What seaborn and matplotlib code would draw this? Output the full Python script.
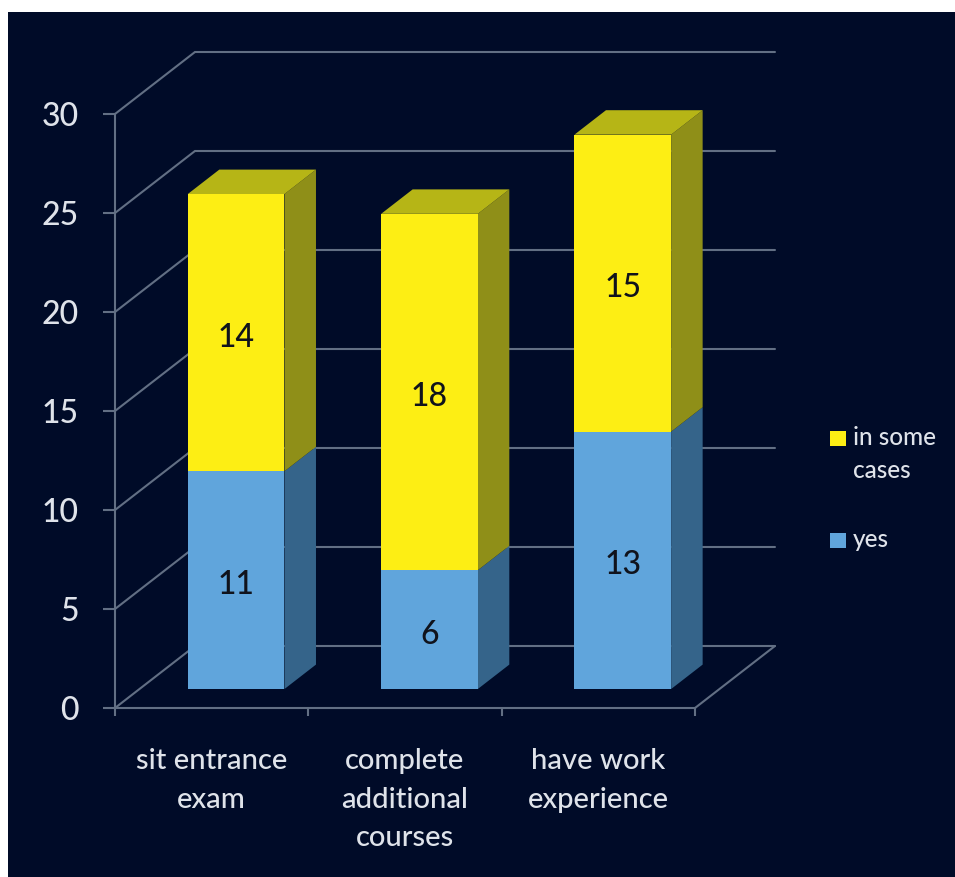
import matplotlib.pyplot as plt
import seaborn as sns
from matplotlib.patches import Polygon, Rectangle
from matplotlib.transforms import Affine2D

categories = ['sit entrance\nexam', 'complete\nadditional\ncourses', 'have work\nexperience']
yes = [11, 6, 13]
in_some_cases = [14, 18, 15]
y_ticks = [0, 5, 10, 15, 20, 25, 30]

W, H = 955, 877
BG = '#000b28'
LINE = '#626f84'
TEXT = '#dfe3ea'
YELLOW = ['#fdee14', '#b6b516', '#8f8f18']
BLUE = ['#60a5dc', '#35648a']

# depth of the fake 3d box, in data units
DX = 80 / 193.4
DY = 62 / 19.8
BAR_FRONT = 0.306
BAR_BACK = 0.70

sns.set_theme(style='white')
plt.rcParams['font.family'] = ['Lato', 'DejaVu Sans']
plt.rcParams['font.weight'] = 'medium'

fig = plt.figure(figsize=(W / 100, H / 100), dpi=100, facecolor='white')
fig.add_artist(Rectangle((8 / W, 0), (W - 8) / W, (H - 12) / H, transform=fig.transFigure,
                         facecolor=BG, edgecolor='none', zorder=-1))
ax = fig.add_axes([115 / W, 1 - 708 / H, 580 / W, 594 / H], facecolor='none')

# back wall and floor
for v in y_ticks:
    ax.plot([-0.5, -0.5 + DX, 2.5 + DX], [v, v + DY, v + DY], color=LINE, lw=1.5,
            clip_on=False, zorder=1, solid_joinstyle='miter')
ax.plot([2.5, 2.5 + DX], [0, DY], color=LINE, lw=1.5, clip_on=False, zorder=1)

sns.barplot(x=categories, y=yes, color=BLUE[0], width=0.5, saturation=1, ax=ax, zorder=4)
n_yes = len(ax.patches)
sns.barplot(x=categories, y=in_some_cases, bottom=yes, color=YELLOW[0], width=0.5,
            saturation=1, ax=ax, zorder=4)

ax.set_xlim(-0.5, 2.5)
ax.set_ylim(0, 30)

# push the bars back into the box and add side and top faces
shift = Affine2D().translate(BAR_FRONT * DX, BAR_FRONT * DY) + ax.transData
depth_x = (BAR_BACK - BAR_FRONT) * DX
depth_y = (BAR_BACK - BAR_FRONT) * DY
for i, bar in enumerate(ax.patches[:]):
    x0, y0, w, h = bar.get_x(), bar.get_y(), bar.get_width(), bar.get_height()
    bar.set_transform(shift)
    bar.set_clip_on(False)
    bar.set_edgecolor('none')
    side = BLUE[1] if i < n_yes else YELLOW[2]
    ax.add_patch(Polygon([(x0 + w, y0), (x0 + w + depth_x, y0 + depth_y),
                          (x0 + w + depth_x, y0 + h + depth_y), (x0 + w, y0 + h)],
                         facecolor=side, edgecolor='none', zorder=3, clip_on=False,
                         transform=shift))
    if i >= n_yes:
        ax.add_patch(Polygon([(x0, y0 + h), (x0 + depth_x, y0 + h + depth_y),
                              (x0 + w + depth_x, y0 + h + depth_y), (x0 + w, y0 + h)],
                             facecolor=YELLOW[1], edgecolor='none', zorder=3, clip_on=False,
                             transform=shift))
    ax.text(x0 + w / 2, y0 + h / 2 - 0.25, str(int(round(h))), ha='center', va='center',
            fontsize=23, color='#10131c', zorder=6, transform=shift)

for s in ['top', 'right']:
    ax.spines[s].set_visible(False)
for s in ['left', 'bottom']:
    ax.spines[s].set_color(LINE)
    ax.spines[s].set_linewidth(1.5)

ax.set_yticks(y_ticks)
ax.tick_params(axis='y', left=True, length=9, width=1.5, color=LINE, pad=17,
               labelsize=23, labelcolor=TEXT)
ax.set_xticks(range(len(categories)), categories)
ax.set_xticks([-0.5, 0.5, 1.5, 2.5], minor=True)
ax.tick_params(axis='x', which='major', bottom=False, pad=23, labelsize=21, labelcolor=TEXT)
ax.tick_params(axis='x', which='minor', bottom=True, length=6, width=1.5, color=LINE)
for lab in ax.get_xticklabels():
    lab.set_linespacing(1.6)
ax.grid(False)

# legend, square sits on the first text line
for label, color, top in [('in some\ncases', YELLOW[0], 438), ('yes', BLUE[0], 540)]:
    fig.add_artist(Rectangle((830 / W, 1 - (top + 7.5) / H), 16 / W, 15 / H,
                             transform=fig.transFigure, facecolor=color, edgecolor='none'))
    fig.text(853 / W, 1 - (top - 12) / H, label, ha='left', va='top', fontsize=17.5,
             color=TEXT, linespacing=1.55)

fig.savefig('out.png', dpi=100)
